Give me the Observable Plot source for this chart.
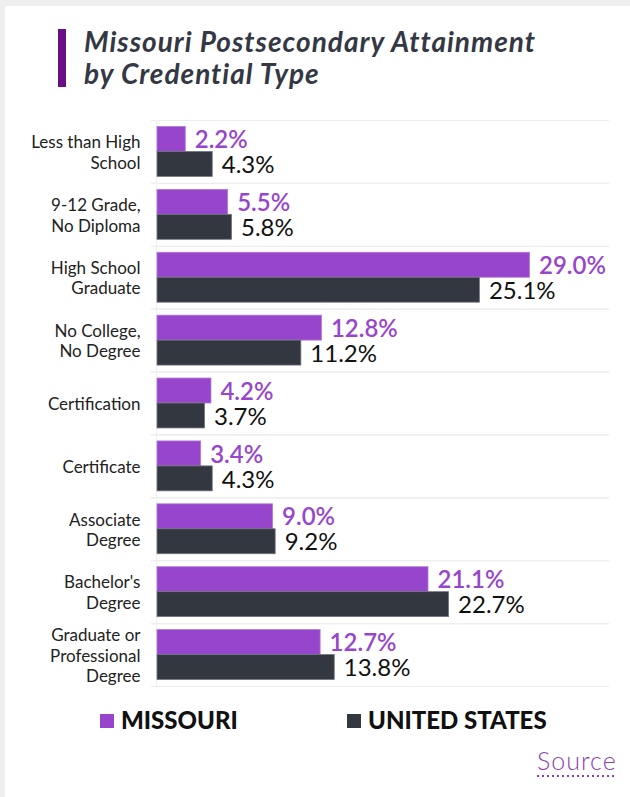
<!DOCTYPE html>
<html>
<head>
<meta charset="utf-8">
<script src="https://cdn.jsdelivr.net/npm/d3@7"></script>
<script src="https://cdn.jsdelivr.net/npm/@observablehq/plot@0.6"></script>
<style>
  html, body { margin: 0; padding: 0; }
  body { width: 630px; height: 797px; background: #efefef; position: relative; overflow: hidden; font-family: Lato, "Noto Sans", sans-serif; }
  .card { position: absolute; left: 5px; top: 6px; width: 640px; height: 800px; background: #fff; }
  .titlebar { position: absolute; left: 58px; top: 29px; width: 8px; height: 58px; background: #6b0d86; }
  .title { position: absolute; left: 84px; top: 25px; font-size: 28px; font-weight: 700; font-style: italic; color: #343844; line-height: 32px; letter-spacing: 1px; white-space: nowrap; }
  #chart { position: absolute; left: 0; top: 115px; line-height: 0; }
  .legend { position: absolute; top: 705px; left: 0; width: 630px; font-size: 24px; font-weight: 900; color: #111; }
  .legend .item { position: absolute; display: flex; align-items: center; white-space: nowrap; line-height: 29px; }
  .legend .sw { width: 14px; height: 14px; margin-right: 7px; margin-top: 3px; }
  .source { position: absolute; left: 537px; top: 746px; font-size: 25px; font-weight: 300; color: #8e3fae; letter-spacing: 1px; line-height: 28px; padding-bottom: 3px;
    background-image: linear-gradient(to right, #8e3fae 45%, rgba(255,255,255,0) 0%);
    background-size: 5px 2px; background-repeat: repeat-x; background-position: left bottom; }
</style>
</head>
<body>
<div class="card"></div>
<div class="titlebar"></div>
<div class="title">Missouri Postsecondary Attainment<br>by Credential Type</div>
<div id="chart"></div>
<div class="legend" id="legend"></div>
<div class="source">Source</div>
<script>
const categories = [
  "Less than High\nSchool",
  "9-12 Grade,\nNo Diploma",
  "High School\nGraduate",
  "No College,\nNo Degree",
  "Certification",
  "Certificate",
  "Associate\nDegree",
  "Bachelor's\nDegree",
  "Graduate or\nProfessional\nDegree"
];
const series = ["MISSOURI", "UNITED STATES"];
const missouri = [2.2, 5.5, 29.0, 12.8, 4.2, 3.4, 9.0, 21.1, 12.7];
const unitedStates = [4.3, 5.8, 25.1, 11.2, 3.7, 4.3, 9.2, 22.7, 13.8];
const colors = ["#9745cc", "#333740"];
const textColors = ["#9745cc", "#111111"];

const data = categories.flatMap((c, i) => [
  {category: c, series: series[0], value: missouri[i]},
  {category: c, series: series[1], value: unitedStates[i]}
]);
const moData = data.filter(d => d.series === series[0]);
const usData = data.filter(d => d.series === series[1]);
const catData = categories.map(c => ({category: c}));

const labelOpts = {
  fy: "category", y: "series", x: "value",
  text: d => d.value.toFixed(1) + "%",
  textAnchor: "start", dx: 9, dy: 1, fontSize: 24
};

const chart = Plot.plot({
  width: 630,
  height: 576,
  marginTop: 5,
  marginBottom: 5,
  marginLeft: 157,
  marginRight: 62,
  style: {fontFamily: "Lato, 'Noto Sans', sans-serif", background: "transparent"},
  x: {domain: [0, 32], axis: null},
  y: {domain: series, paddingInner: 0, paddingOuter: 0.26, round: false, axis: null},
  fy: {domain: categories, padding: 0, round: false, axis: null},
  color: {domain: series, range: colors},
  marks: [
    Plot.frame({anchor: "top", stroke: "#eeeeee", strokeWidth: 1.2, insetLeft: -6, insetRight: -40}),
    Plot.frame({anchor: "bottom", stroke: "#eeeeee", strokeWidth: 1.2, insetLeft: -6, insetRight: -40}),
    Plot.ruleX([0], {stroke: "#f0f0f0", dx: -1}),
    Plot.barX(moData, {fy: "category", y: "series", x: "value", fill: "series", stroke: "#b07ad6", strokeWidth: 0.8}),
    Plot.barX(usData, {fy: "category", y: "series", x: "value", fill: "series", stroke: "#70757f", strokeWidth: 0.8}),
    Plot.text(moData, {...labelOpts, fontWeight: 600, fill: textColors[0]}),
    Plot.text(usData, {...labelOpts, fontWeight: 400, fill: textColors[1]}),
    Plot.text(catData, {
      fy: "category", text: "category", frameAnchor: "left",
      textAnchor: "end", dx: -17, fontSize: 17, lineHeight: 1.2, fill: "#222"
    })
  ]
});
document.getElementById("chart").appendChild(chart);

const legend = document.getElementById("legend");
const legendX = [100, 347];
series.forEach((s, i) => {
  const item = document.createElement("div");
  item.className = "item";
  item.style.left = legendX[i] + "px";
  const sw = document.createElement("span");
  sw.className = "sw";
  sw.style.background = colors[i];
  const label = document.createElement("span");
  label.textContent = s;
  item.appendChild(sw);
  item.appendChild(label);
  legend.appendChild(item);
});
</script>
</body>
</html>
